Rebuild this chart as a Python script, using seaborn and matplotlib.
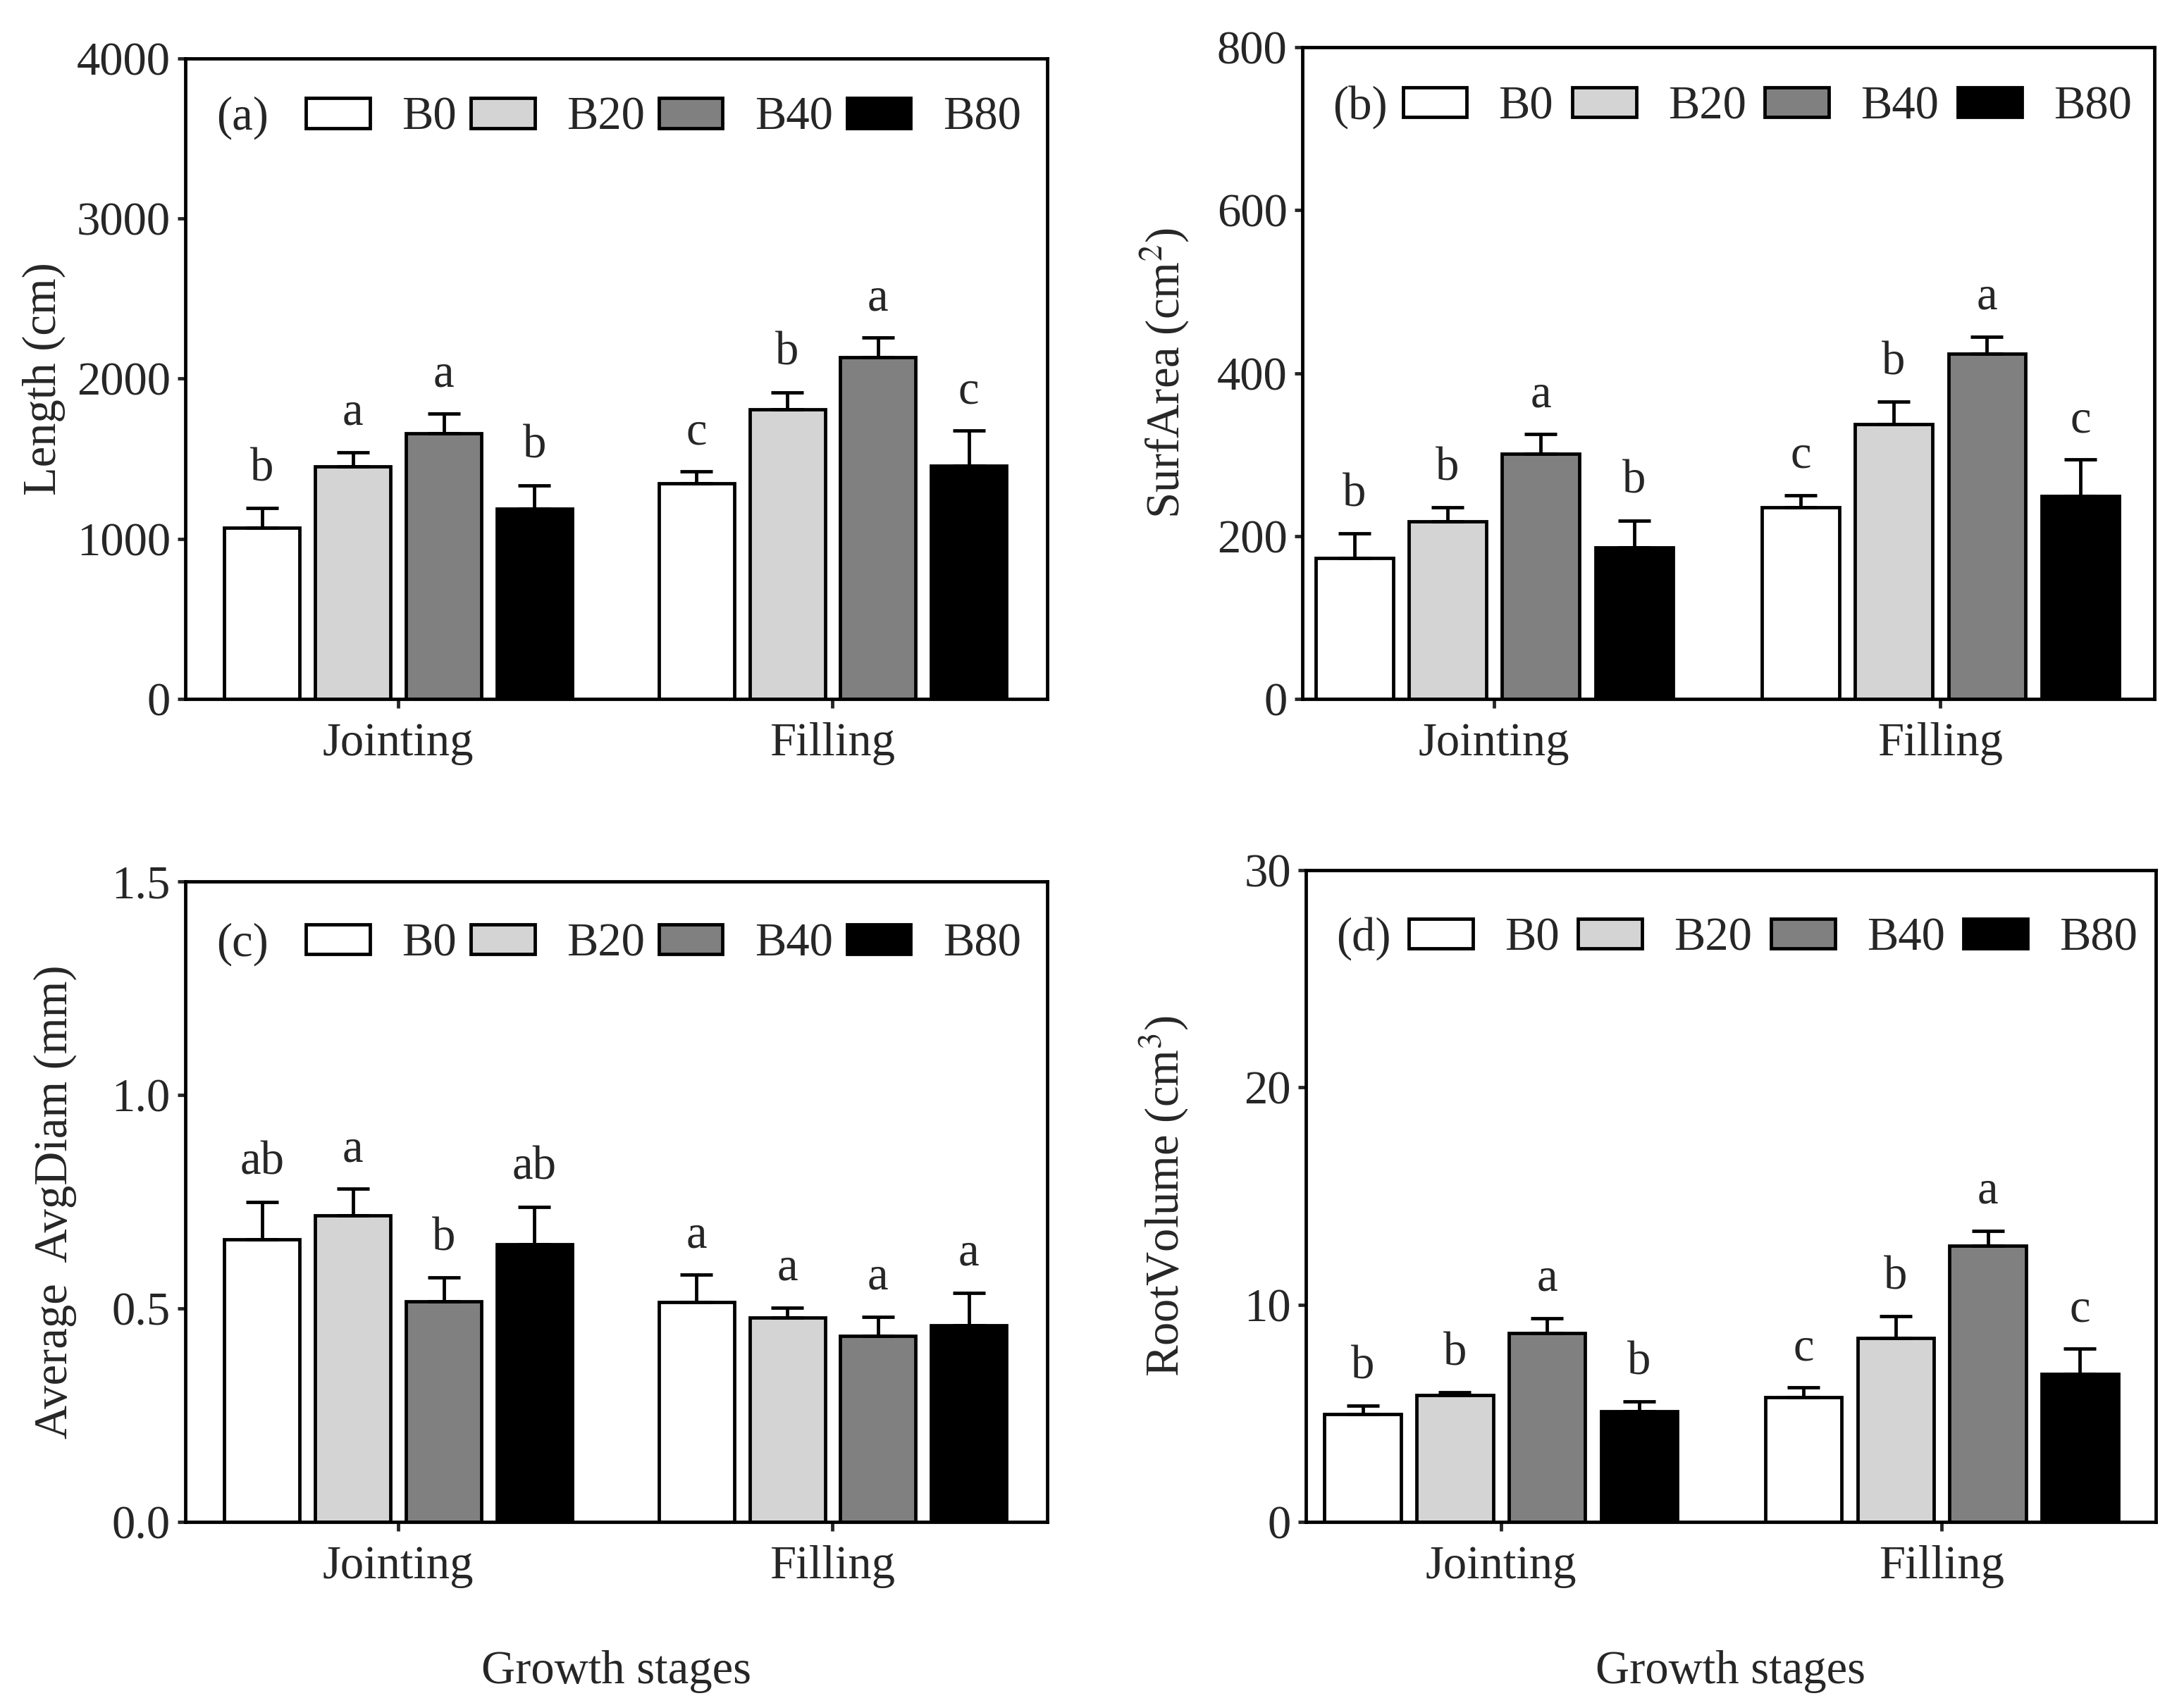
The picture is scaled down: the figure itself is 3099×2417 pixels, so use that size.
import matplotlib
matplotlib.use("Agg")
import matplotlib.pyplot as plt
import seaborn as sns
import pandas as pd

stages = ["Jointing", "Filling"]
treatments = ["B0", "B20", "B40", "B80"]
colors = ["#ffffff", "#d4d4d4", "#808080", "#000000"]

# values per treatment: [Jointing, Filling]
length_mean = {"B0": [1068, 1345], "B20": [1453, 1808], "B40": [1660, 2133], "B80": [1187, 1456]}
length_err = {"B0": [123, 76], "B20": [87, 106], "B40": [120, 122], "B80": [147, 220]}
length_sig = {"B0": ["b", "c"], "B20": ["a", "b"], "B40": ["a", "a"], "B80": ["b", "c"]}

area_mean = {"B0": [173, 235], "B20": [218, 337], "B40": [301, 424], "B80": [186, 249]}
area_err = {"B0": [30, 15], "B20": [17, 28], "B40": [24, 21], "B80": [33, 45]}
area_sig = {"B0": ["b", "c"], "B20": ["b", "b"], "B40": ["a", "a"], "B80": ["b", "c"]}

diam_mean = {"B0": [0.662, 0.515], "B20": [0.718, 0.478], "B40": [0.517, 0.435], "B80": [0.650, 0.460]}
diam_err = {"B0": [0.088, 0.064], "B20": [0.062, 0.024], "B40": [0.055, 0.046], "B80": [0.088, 0.077]}
diam_sig = {"B0": ["ab", "a"], "B20": ["a", "a"], "B40": ["b", "a"], "B80": ["ab", "a"]}

vol_mean = {"B0": [4.96, 5.75], "B20": [5.85, 8.47], "B40": [8.68, 12.70], "B80": [5.08, 6.80]}
vol_err = {"B0": [0.38, 0.44], "B20": [0.12, 1.00], "B40": [0.70, 0.70], "B80": [0.46, 1.18]}
vol_sig = {"B0": ["b", "c"], "B20": ["b", "b"], "B40": ["a", "a"], "B80": ["b", "c"]}

sns.set_style("ticks")
plt.rcParams["font.family"] = ["Liberation Serif", "DejaVu Serif"]
plt.rcParams["mathtext.fontset"] = "stix"

FS = 16
LW = 1.15
fig = plt.figure(figsize=(3099 / 300, 2417 / 300), dpi=300)

panels = [
    # rect, means, errs, sigs, ymax, yticks, ylabel, tag, ylabel x, xlim, legend x, legend y, colspacing
    ([0.0849, 0.5896, 0.3946, 0.3761], length_mean, length_err, length_sig, 4000,
     [0, 1000, 2000, 3000, 4000], "Length (cm)", "(a)", -0.139, (-0.49, 1.494), 0.140, 0.907, 0.3),
    ([0.5963, 0.5896, 0.3902, 0.3826], area_mean, area_err, area_sig, 800,
     [0, 200, 400, 600, 800], "SurfArea (cm$^{2}$)", "(b)", -0.131, (-0.43, 1.48), 0.118, 0.908, 0.4),
    ([0.0849, 0.1063, 0.3946, 0.3761], diam_mean, diam_err, diam_sig, 1.5,
     [0.0, 0.5, 1.0, 1.5], "Average  AvgDiam (mm)", "(c)", -0.126, (-0.49, 1.494), 0.140, 0.902, 0.3),
    ([0.5980, 0.1063, 0.3890, 0.3827], vol_mean, vol_err, vol_sig, 30,
     [0, 10, 20, 30], "RootVolume (cm$^{3}$)", "(d)", -0.136, (-0.442, 1.485), 0.121, 0.895, 0.4),
]

for rect, means, errs, sigs, ymax, yticks, ylabel, tag, ylx, xlim, lgx, lgy, colsp in panels:
    ax = fig.add_axes(rect)
    df = pd.DataFrame({
        "stage": stages * len(treatments),
        "treatment": [t for t in treatments for _ in stages],
        "value": [v for t in treatments for v in means[t]],
    })
    sns.barplot(data=df, x="stage", y="value", hue="treatment", order=stages,
                hue_order=treatments, palette=colors, saturation=1, width=0.836,
                gap=0.17, edgecolor="black", linewidth=LW, errorbar=None,
                legend=False, ax=ax)

    # one-sided error bars and significance letters
    for cont, t in zip(ax.containers, treatments):
        for bar, e, s in zip(cont.patches, errs[t], sigs[t]):
            x = bar.get_x() + bar.get_width() / 2
            h = bar.get_height()
            ax.errorbar([x], [h], yerr=[[0], [e]], fmt="none", ecolor="black",
                        elinewidth=LW, capsize=5.5, capthick=LW, zorder=1)
            ax.annotate(s, (x, h + e), xytext=(0, 6), textcoords="offset points",
                        ha="center", va="bottom", fontsize=FS)

    ax.set_xlim(*xlim)
    ax.set_ylim(0, ymax)
    ax.set_yticks(yticks)
    if tag == "(c)":
        ax.set_yticklabels([f"{v:.1f}" for v in yticks])
    ax.tick_params(axis="y", labelsize=FS, width=LW, length=2.6, pad=2.5,
                   direction="out")
    ax.tick_params(axis="x", labelsize=FS, width=LW, length=3, pad=5,
                   direction="out")
    for sp in ax.spines.values():
        sp.set_visible(True)
        sp.set_linewidth(LW)
        sp.set_color("black")
    ax.set_ylabel(ylabel, fontsize=FS)
    ax.yaxis.set_label_coords(ylx, 0.5)
    if tag in ("(c)", "(d)"):
        ax.set_xlabel("Growth stages", fontsize=FS, labelpad=21)
    else:
        ax.set_xlabel("")

    ax.text(0.036, lgy, tag, transform=ax.transAxes, fontsize=FS,
            ha="left", va="center")
    ax.legend(ax.containers, treatments, loc="center left",
              bbox_to_anchor=(lgx, lgy), ncol=4, frameon=False, fontsize=FS,
              handlelength=1.36, handleheight=0.6, handletextpad=0.68,
              columnspacing=colsp, borderaxespad=0, borderpad=0)

fig.savefig("out.png", dpi=300)
